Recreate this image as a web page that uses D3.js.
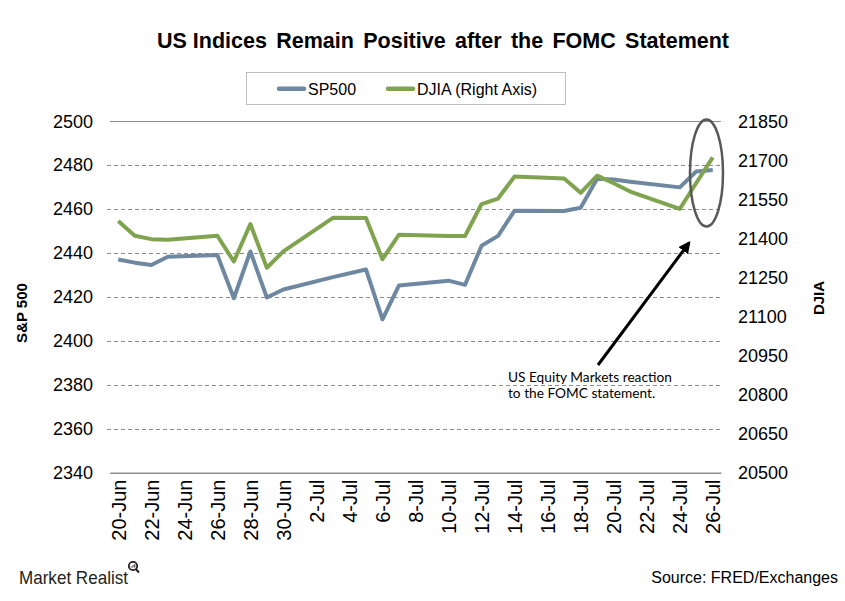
<!DOCTYPE html>
<html>
<head>
<meta charset="utf-8">
<script src="https://cdn.jsdelivr.net/npm/d3@7"></script>
<style>
  html, body { margin: 0; padding: 0; background: #fff; }
  svg { display: block; font-family: "Liberation Sans", Arial, sans-serif; }
</style>
</head>
<body>
<svg id="chart" width="845" height="601"></svg>
<script>
// ---- data (2017) ----
const dates = ["2017-06-20","2017-06-21","2017-06-22","2017-06-23","2017-06-26","2017-06-27","2017-06-28","2017-06-29","2017-06-30",
  "2017-07-03","2017-07-05","2017-07-06","2017-07-07","2017-07-10","2017-07-11","2017-07-12","2017-07-13","2017-07-14",
  "2017-07-17","2017-07-18","2017-07-19","2017-07-20","2017-07-21","2017-07-24","2017-07-25","2017-07-26"];
const sp500 = [2437.0, 2435.6, 2434.5, 2438.3, 2439.1, 2419.4, 2440.7, 2419.7, 2423.4,
  2429.0, 2432.5, 2409.8, 2425.2, 2427.4, 2425.5, 2443.3, 2447.8, 2459.3,
  2459.1, 2460.6, 2473.8, 2473.5, 2472.5, 2469.9, 2477.1, 2477.8];
const djia = [21467, 21410, 21397, 21395, 21410, 21311, 21455, 21287, 21350,
  21479, 21478, 21320, 21414, 21409, 21409, 21532, 21553, 21638,
  21630, 21575, 21641, 21612, 21580, 21513, 21613, 21711];
const leftTicks = [2340, 2360, 2380, 2400, 2420, 2440, 2460, 2480, 2500];
const rightTicks = [20500, 20650, 20800, 20950, 21100, 21250, 21400, 21550, 21700, 21850];
const xTickLabels = ["20-Jun","22-Jun","24-Jun","26-Jun","28-Jun","30-Jun","2-Jul","4-Jul","6-Jul","8-Jul",
  "10-Jul","12-Jul","14-Jul","16-Jul","18-Jul","20-Jul","22-Jul","24-Jul","26-Jul"];
const seriesNames = ["SP500", "DJIA (Right Axis)"];
const titleParts = ["US Indices", " Remain Positive after the FOMC Statement"];
const annotationLines = ["US Equity Markets reaction", "to the FOMC statement."];

// ---- layout ----
const svg = d3.select("#chart");
const L = 110, R = 721, T = 121.3, B = 472.5;
const colSP = "#6F88A2", colDJ = "#7FA34F";
const parse = d3.utcParse("%Y-%m-%d");
const DAY = 864e5;
const firstDay = parse("2017-06-20"), lastDay = parse("2017-07-26");

const x = d3.scaleUtc()
  .domain([new Date(+firstDay - DAY / 2), new Date(+lastDay + DAY / 2)])
  .range([L, R]);
const yL = d3.scaleLinear().domain([2340, 2500]).range([B, T]);
const yR = d3.scaleLinear().domain([20500, 21850]).range([B, T]);

// title
const title = svg.append("text")
  .attr("x", 157).attr("y", 48)
  .attr("font-weight", "bold").attr("font-size", 21.5)
  .style("white-space", "pre");
const t1 = title.append("tspan").text(titleParts[0]);
const t2 = title.append("tspan").text(titleParts[1]);
{
  const total = title.node().getComputedTextLength();
  const spaces = (titleParts[1].match(/ /g) || []).length;
  t2.style("word-spacing", Math.max(0, (572 - total) / spaces) + "px");
}

// legend
const lg = svg.append("g");
lg.append("rect").attr("x", 246.5).attr("y", 72.5).attr("width", 319).attr("height", 32)
  .attr("fill", "#fff").attr("stroke", "#BFBFBF").attr("stroke-width", 1);
const legendItems = [
  { name: seriesNames[0], color: colSP, x1: 279, x2: 304, tx: 308 },
  { name: seriesNames[1], color: colDJ, x1: 388, x2: 413, tx: 417 }
];
legendItems.forEach(d => {
  lg.append("line").attr("x1", d.x1).attr("x2", d.x2).attr("y1", 88.7).attr("y2", 88.7)
    .attr("stroke", d.color).attr("stroke-width", 4.5).attr("stroke-linecap", "round");
  lg.append("text").attr("x", d.tx).attr("y", 94.5).attr("font-size", 16).attr("fill", "#000").text(d.name);
});

// gridlines
const grid = svg.append("g");
leftTicks.forEach(v => {
  const solid = (v === 2500 || v === 2340);
  grid.append("line")
    .attr("x1", solid ? 110 : 107).attr("x2", R)
    .attr("y1", Math.round(yL(v)) + 0.5).attr("y2", Math.round(yL(v)) + 0.5)
    .attr("stroke", "#8C8C8C").attr("stroke-width", 1)
    .attr("stroke-dasharray", solid ? null : "4,3");
});

// left axis labels
const axL = svg.append("g").attr("transform", `translate(${L},0)`)
  .call(d3.axisLeft(yL).tickValues(leftTicks).tickSize(0).tickPadding(17).tickFormat(d3.format("d")));
axL.select(".domain").remove();
axL.selectAll("text").attr("font-size", 18).attr("fill", "#000")
  .attr("font-family", '"Liberation Sans", Arial, sans-serif');

// right axis labels
const axR = svg.append("g").attr("transform", `translate(${R},0)`)
  .call(d3.axisRight(yR).tickValues(rightTicks).tickSize(0).tickPadding(17).tickFormat(d3.format("d")));
axR.select(".domain").remove();
axR.selectAll("text").attr("font-size", 18).attr("fill", "#000")
  .attr("font-family", '"Liberation Sans", Arial, sans-serif');

// bottom axis
const xTicks = xTickLabels.map((_, i) => new Date(+firstDay + i * 2 * DAY));
const axB = svg.append("g").attr("transform", `translate(0,${B})`)
  .call(d3.axisBottom(x).tickValues(xTicks).tickSize(0).tickFormat((d, i) => xTickLabels[i]));
axB.select(".domain").attr("stroke", "#8C8C8C").attr("stroke-width", 1);
axB.selectAll("text")
  .attr("font-size", 20).attr("fill", "#000")
  .attr("font-family", '"Liberation Sans", Arial, sans-serif')
  .attr("text-anchor", "end")
  .attr("transform", "translate(0,7) rotate(-90)")
  .attr("x", 0).attr("y", 0).attr("dy", "0.35em");

// axis titles
svg.append("text").attr("transform", "translate(27,313) rotate(-90)")
  .attr("text-anchor", "middle").attr("font-weight", "bold").attr("font-size", 15).text("S&P 500");
svg.append("text").attr("transform", "translate(824,298) rotate(-90)")
  .attr("text-anchor", "middle").attr("font-weight", "bold").attr("font-size", 15).text("DJIA");

// lines
const pts = dates.map((d, i) => ({ date: parse(d), sp: sp500[i], dj: djia[i] }));
svg.append("path").datum(pts)
  .attr("fill", "none").attr("stroke", colSP).attr("stroke-width", 4).attr("stroke-linejoin", "round")
  .attr("d", d3.line().x(d => x(d.date)).y(d => yL(d.sp)));
svg.append("path").datum(pts)
  .attr("fill", "none").attr("stroke", colDJ).attr("stroke-width", 4).attr("stroke-linejoin", "round")
  .attr("d", d3.line().x(d => x(d.date)).y(d => yR(d.dj)));

// annotation ellipse
svg.append("ellipse").attr("cx", 706.5).attr("cy", 173).attr("rx", 16.5).attr("ry", 53.5)
  .attr("fill", "none").attr("stroke", "#595959").attr("stroke-width", 2.5);

// arrow
const defs = svg.append("defs");
defs.append("marker").attr("id", "ah").attr("viewBox", "0 0 10 10").attr("refX", 8).attr("refY", 5)
  .attr("markerWidth", 4).attr("markerHeight", 4).attr("orient", "auto")
  .append("path").attr("d", "M0,0 L10,5 L0,10 Z").attr("fill", "#000");
svg.append("line").attr("x1", 598).attr("y1", 365).attr("x2", 689).attr("y2", 243)
  .attr("stroke", "#000").attr("stroke-width", 3).attr("marker-end", "url(#ah)");

// annotation text
annotationLines.forEach((t, i) => {
  svg.append("text").attr("x", 508).attr("y", 381.5 + i * 16.5)
    .attr("font-family", "Lato, 'Open Sans', sans-serif").attr("font-size", 13.7).attr("fill", "#000")
    .text(t);
});

// footer
svg.append("text").attr("x", 19).attr("y", 584)
  .attr("font-family", '"Liberation Sans Narrow", "Arial Narrow", "Liberation Sans", sans-serif')
  .attr("font-size", 19).attr("fill", "#231F20")
  .attr("textLength", 109).attr("lengthAdjust", "spacingAndGlyphs")
  .text("Market Realist");
const icon = svg.append("g").attr("transform", "translate(133,566)");
icon.append("circle").attr("r", 4.2).attr("fill", "none").attr("stroke", "#231F20").attr("stroke-width", 1.8);
icon.append("line").attr("x1", 2.8).attr("y1", 3).attr("x2", 6).attr("y2", 6.5)
  .attr("stroke", "#231F20").attr("stroke-width", 2);
icon.append("path").attr("d", "M-1.8,1.5 V0.5 M0,1.5 V-0.8 M1.8,1.5 V-2")
  .attr("stroke", "#231F20").attr("stroke-width", 1);
svg.append("text").attr("x", 838).attr("y", 583).attr("text-anchor", "end")
  .attr("font-size", 16).attr("fill", "#000").text("Source: FRED/Exchanges");
</script>
</body>
</html>
